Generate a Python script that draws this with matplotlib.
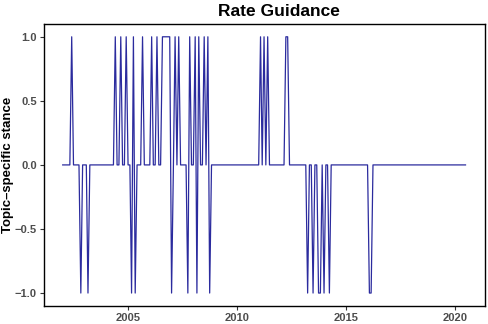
import pandas as pd
import matplotlib
matplotlib.use("Agg")
import matplotlib.pyplot as plt
import matplotlib.dates as mdates

plt.rcParams['font.family'] = ['Liberation Sans', 'DejaVu Sans']

# monthly series, zero except for the months listed below
start_month = "2002-01"
end_month = "2020-07"

event_months = ["2002-06", "2002-11", "2003-03",
                "2004-06", "2004-09", "2004-12", "2005-03", "2005-04", "2005-05",
                "2005-09", "2006-02", "2006-05",
                "2006-08", "2006-09", "2006-10", "2006-11", "2006-12", "2007-01",
                "2007-03", "2007-05", "2007-10", "2007-11", "2008-02", "2008-03",
                "2008-04", "2008-07", "2008-09", "2008-10",
                "2011-02", "2011-04", "2011-06", "2012-04", "2012-05",
                "2013-04", "2013-07", "2013-10", "2013-11", "2014-01", "2014-04",
                "2016-02", "2016-03"]
event_values = [1, -1, -1,
                1, 1, 1, -1, 1, -1,
                1, 1, 1,
                1, 1, 1, 1, 1, -1,
                1, 1, -1, 1, 1, -1,
                1, 1, 1, -1,
                1, 1, 1, 1, 1,
                -1, -1, -1, -1, -1, -1,
                -1, -1]

dates = pd.date_range(start_month, end_month, freq="MS")
stance = pd.Series(0.0, index=dates)
stance[pd.to_datetime(event_months)] = event_values

fig = plt.figure(figsize=(4.88, 3.24), dpi=100)
ax = fig.add_axes([0.090, 0.056, 0.904, 0.870])

ax.plot(stance.index, stance.values, color="#2B2B9E", lw=0.9)

ax.set_xlim(pd.Timestamp("2001-02-20"), pd.Timestamp("2021-05-25"))
ax.set_ylim(-1.1, 1.1)
ax.set_yticks([-1.0, -0.5, 0.0, 0.5, 1.0])
ax.set_yticklabels(["\u22121.0", "\u22120.5", "0.0", "0.5", "1.0"])
ax.xaxis.set_major_locator(mdates.YearLocator(5))
ax.xaxis.set_major_formatter(mdates.DateFormatter("%Y"))

for s in ax.spines.values():
    s.set_linewidth(1.0)
    s.set_color("black")
ax.tick_params(length=3, width=0.8, color="#333333", labelsize=8,
               labelcolor="#4D4D4D", pad=2)
for lab in ax.get_xticklabels() + ax.get_yticklabels():
    lab.set_fontweight("bold")

ax.set_ylabel("Topic\u2013specific stance", fontsize=9.5, fontweight="bold")
ax.yaxis.set_label_coords(-0.068, 0.5)
fig.text(279 / 488, 0.963, "Rate Guidance", fontsize=12.5, fontweight="bold",
         ha="center", va="center")

fig.savefig("out.png", dpi=100)
